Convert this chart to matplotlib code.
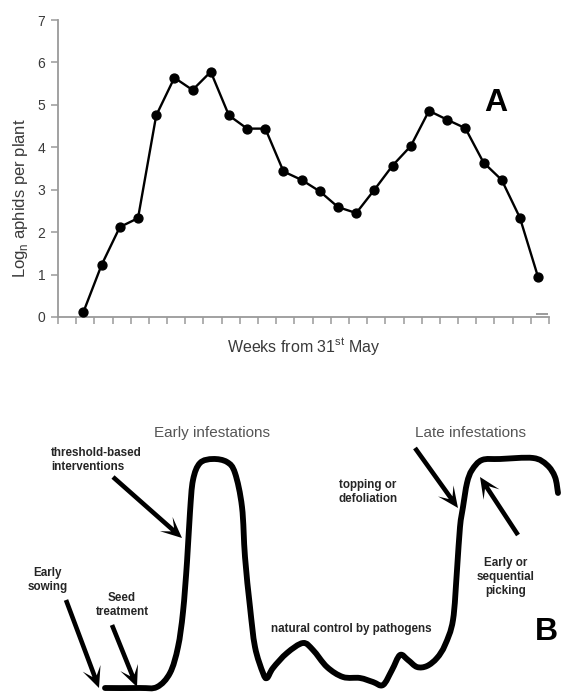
import numpy as np
import matplotlib
matplotlib.use("Agg")
import matplotlib.pyplot as plt
from matplotlib.path import Path
from matplotlib.patches import PathPatch, FancyArrow

plt.rcParams['font.family'] = ['Liberation Sans', 'DejaVu Sans']
plt.rcParams['mathtext.fontset'] = 'custom'
plt.rcParams['mathtext.rm'] = 'Liberation Sans'

# ---- Panel A: weekly aphid counts ----
n_slots = 27                      # category slots on the week axis
weeks = np.arange(1, 27)          # weeks with a sample
log_aphids = [0.12, 1.23, 2.12, 2.33, 4.75, 5.64, 5.35, 5.78, 4.75, 4.44,
              4.44, 3.43, 3.23, 2.96, 2.59, 2.45, 3.00, 3.57, 4.03, 4.86,
              4.65, 4.45, 3.64, 3.23, 2.34, 0.94]
y_ticks = [0, 1, 2, 3, 4, 5, 6, 7]
stray_x = [26.6]
stray_y = [0.07]

# ---- Panel B: schematic season curve (time, relative abundance) ----
season_t = [105, 140, 157, 170, 178, 183, 187, 190, 193, 200, 213, 227, 235,
            242, 245, 250, 255, 263, 267, 273, 287, 303, 313, 327, 343, 360,
            373, 383, 392, 400, 408, 417, 427, 437, 445, 453, 457, 460, 463,
            467, 472, 482, 500, 533, 547, 555, 558]
aphid_level = [4, 4, 5, 19, 45, 80, 130, 180, 212, 229, 233, 230, 219,
               185, 135, 85, 45, 19, 14, 24, 39, 49, 42, 25, 15, 14,
               10, 7, 22, 37, 32, 25, 26, 34, 47, 72, 122, 165, 185,
               209, 222, 232, 233, 234, 227, 215, 199]

W, H = 561, 692
fig = plt.figure(figsize=(W / 100, H / 100), dpi=100)

spine_col = '#9a9a9a'
txt_col = '#3a3a3a'

ax = fig.add_axes([58 / W, 1 - 317 / H, (549 - 58) / W, (317 - 20) / H])
ax.plot(weeks + 0.4, log_aphids, color='black', lw=1.7, marker='o',
        ms=6.4, mfc='black', mec='black', zorder=3)
ax.plot(stray_x, stray_y, ls='none', marker='_', ms=9, mew=1.2,
        color='#8a8a8a')
ax.set_xlim(0, n_slots)
ax.set_ylim(0, 7)
ax.set_yticks(y_ticks)
ax.set_xticks(np.arange(0, n_slots + 1))
ax.set_xticklabels([])
for s in ['top', 'right']:
    ax.spines[s].set_visible(False)
for s in ['left', 'bottom']:
    ax.spines[s].set_color(spine_col)
    ax.spines[s].set_linewidth(1.3)
ax.tick_params(axis='both', colors=spine_col, length=5, width=1.1,
               labelcolor=txt_col, labelsize=10)
ax.tick_params(axis='y', pad=4)
ax.set_ylabel('Log$_\\mathregular{n}$ aphids per plant', fontsize=12,
              color=txt_col)
ax.yaxis.set_label_coords(-0.057, 0.40)
ax.set_xlabel('Weeks from 31$^\\mathregular{st}$ May', fontsize=11.5,
              color=txt_col, labelpad=5)
ax.text(0.892, 0.72, 'A', transform=ax.transAxes, fontsize=23,
        fontweight='bold', ha='center', va='center', color='black')

# ---- Panel B ----
axb = fig.add_axes([0, 0, 1, 292 / H])
axb.set_xlim(0, W)
axb.set_ylim(0, 292)
axb.axis('off')


def smooth_path(xs, ys):
    pts = np.column_stack([xs, ys]).astype(float)
    n = len(pts)
    verts = [pts[0]]
    codes = [Path.MOVETO]
    for i in range(n - 1):
        p0 = pts[max(i - 1, 0)]
        p1 = pts[i]
        p2 = pts[i + 1]
        p3 = pts[min(i + 2, n - 1)]
        c1 = p1 + (p2 - p0) / 6.0
        c2 = p2 - (p3 - p1) / 6.0
        verts += [c1, c2, p2]
        codes += [Path.CURVE4] * 3
    return Path(verts, codes)


axb.add_patch(PathPatch(smooth_path(season_t, aphid_level), fill=False,
                        lw=4.2, ec='black', capstyle='round',
                        joinstyle='round'))

# arrows: (start x, start y, tip x, tip y)
arrows = [(113, 215, 182, 154),
          (66, 92, 99, 4),
          (112, 67, 137, 5),
          (415, 244, 458, 184),
          (518, 157, 480, 215)]
for x0, y0, x1, y1 in arrows:
    axb.add_patch(FancyArrow(x0, y0, x1 - x0, y1 - y0, width=4.6,
                             head_width=19, head_length=21,
                             length_includes_head=True, overhang=0.4,
                             color='black', lw=0))

grey = '#555555'
bold_col = '#262626'
axb.text(212, 692 - 433, 'Early infestations', fontsize=11, color=grey,
         ha='center', va='center')
axb.text(471, 692 - 433, 'Late infestations', fontsize=11, color=grey,
         ha='center', va='center')
axb.text(51, 692 - 460, 'threshold-based\ninterventions', fontsize=8.4,
         fontweight='bold', color=bold_col, ha='left', va='center',
         linespacing=1.25)
axb.text(48, 692 - 580, 'Early\nsowing', fontsize=8.4, fontweight='bold',
         color=bold_col, ha='center', va='center', linespacing=1.25)
axb.text(122, 692 - 605, 'Seed\ntreatment', fontsize=8.4, fontweight='bold',
         color=bold_col, ha='center', va='center', linespacing=1.25)
axb.text(351, 692 - 629, 'natural control by pathogens', fontsize=8.4,
         fontweight='bold', color=bold_col, ha='center', va='center')
axb.text(368, 692 - 492, 'topping or\ndefoliation', fontsize=8.4,
         fontweight='bold', color=bold_col, ha='center', va='center',
         linespacing=1.25)
axb.text(506, 692 - 577, 'Early or\nsequential\npicking', fontsize=8.4,
         fontweight='bold', color=bold_col, ha='center', va='center',
         linespacing=1.25)
axb.text(546, 692 - 632, 'B', fontsize=23, fontweight='bold',
         color='black', ha='center', va='center')

fig.savefig('out.png', dpi=100)
